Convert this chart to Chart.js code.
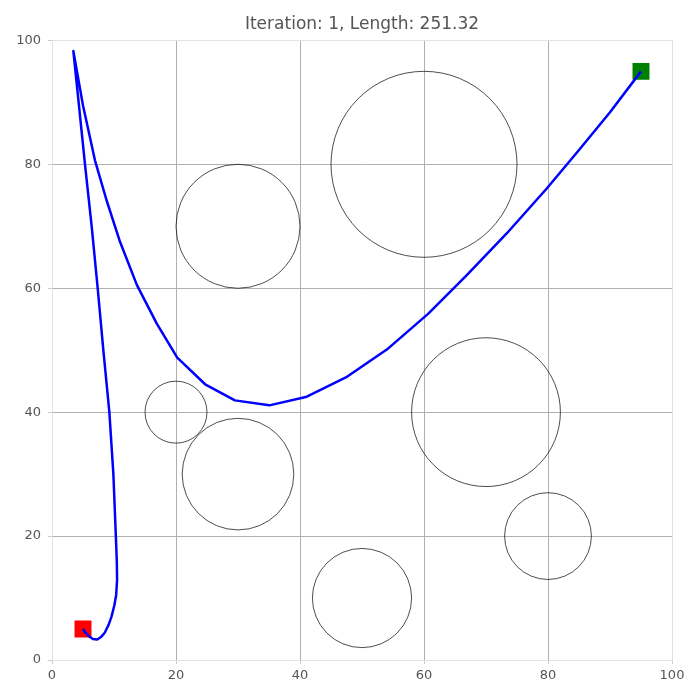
<!DOCTYPE html>
<html>
<head>
<meta charset="utf-8">
<script src="https://cdn.jsdelivr.net/npm/chart.js@4.4.1/dist/chart.umd.min.js"></script>
<style>
  html, body { margin: 0; padding: 0; background: #ffffff; }
  #wrap { width: 700px; height: 700px; }
</style>
</head>
<body>
<div id="wrap"><canvas id="pathChart"></canvas></div>
<script>
// path found by the planner, start -> goal
const pathX = [5, 5.4, 6, 6.6, 7.3, 7.9, 8.5, 9.1, 9.6, 10.05, 10.35, 10.5, 10.45, 10.3, 9.9, 9.25, 8.28, 7.37, 6.4, 5.32, 4.4, 3.44,
    5.0, 6.94, 8.8, 10.97, 13.7, 16.9, 20.2, 24.7, 29.5, 35.05, 41.1, 47.4, 54, 60.7, 66.9, 73.3, 79.8, 85, 90, 95];
const pathY = [5, 4.4, 3.8, 3.4, 3.3, 3.7, 4.4, 5.6, 7, 8.8, 10.5, 13, 16, 20, 30, 40, 50, 60, 70, 80, 89, 98.3,
    89.5, 80.6, 74.2, 67.5, 60.5, 54.3, 48.8, 44.5, 41.9, 41.1, 42.5, 45.6, 50.1, 55.9, 62.1, 68.8, 76.1, 82.3, 88.4, 95];

// obstacles
const obstacleX = [30, 60, 20, 30, 70, 80, 50];
const obstacleY = [70, 80, 40, 30, 40, 20, 10];
const obstacleR = [10, 15, 5, 9, 12, 7, 8];

const startPoint = { x: 5, y: 5 };
const goalPoint = { x: 95, y: 95 };

const axisTicks = [0, 20, 40, 60, 80, 100];
const titleText = 'Iteration: 1, Length: 251.32';

const obstaclePlugin = {
    id: 'obstacles',
    beforeDatasetsDraw(chart) {
        const { ctx, chartArea, scales: { x, y } } = chart;
        ctx.save();
        ctx.beginPath();
        ctx.rect(chartArea.left, chartArea.top, chartArea.width, chartArea.height);
        ctx.clip();
        ctx.strokeStyle = '#000000';
        ctx.lineWidth = 0.7;
        obstacleX.forEach((cx, i) => {
            const px = x.getPixelForValue(cx);
            const py = y.getPixelForValue(obstacleY[i]);
            const pr = Math.abs(x.getPixelForValue(cx + obstacleR[i]) - px);
            ctx.beginPath();
            ctx.arc(px, py, pr, 0, Math.PI * 2);
            ctx.stroke();
        });
        ctx.restore();
    }
};

const gridColor = ctx => (ctx.tick && (ctx.tick.value === 0 || ctx.tick.value === 100)) ? '#e2e2e2' : '#b0b0b0';

new Chart(document.getElementById('pathChart'), {
    type: 'scatter',
    data: {
        datasets: [
            {
                label: 'path',
                data: pathX.map((v, i) => ({ x: v, y: pathY[i] })),
                showLine: true,
                borderColor: '#0000ff',
                borderWidth: 2.5,
                borderJoinStyle: 'round',
                pointRadius: 0,
                tension: 0,
                order: 0
            },
            {
                label: 'start',
                data: [startPoint],
                pointStyle: 'rect',
                pointRadius: 12,
                backgroundColor: '#ff0000',
                borderWidth: 0,
                order: 1
            },
            {
                label: 'goal',
                data: [goalPoint],
                pointStyle: 'rect',
                pointRadius: 12,
                backgroundColor: '#008000',
                borderWidth: 0,
                order: 1
            }
        ]
    },
    options: {
        responsive: true,
        maintainAspectRatio: false,
        animation: false,
        layout: { padding: { left: 0, right: 28, top: 0, bottom: 0 } },
        scales: {
            x: {
                type: 'linear',
                min: 0,
                max: 100,
                afterBuildTicks: scale => { scale.ticks = axisTicks.map(v => ({ value: v })); },
                afterFit: scale => { scale.height = 40; },
                ticks: { color: '#555555', padding: 4, font: { family: 'DejaVu Sans', size: 13 } },
                grid: { color: gridColor, tickColor: '#cccccc', tickLength: 4, lineWidth: 1 },
                border: { display: true, color: '#e2e2e2' }
            },
            y: {
                type: 'linear',
                min: 0,
                max: 100,
                afterBuildTicks: scale => { scale.ticks = axisTicks.map(v => ({ value: v })); },
                afterFit: scale => { scale.width = 52; },
                ticks: { color: '#555555', padding: 7, font: { family: 'DejaVu Sans', size: 13 } },
                grid: { color: gridColor, tickColor: '#cccccc', tickLength: 4, lineWidth: 1 },
                border: { display: true, color: '#e2e2e2' }
            }
        },
        plugins: {
            legend: { display: false },
            tooltip: { enabled: false },
            title: {
                display: true,
                text: titleText,
                fullSize: false,
                color: '#555555',
                font: { family: 'DejaVu Sans', size: 17, weight: 'normal' },
                padding: { top: 14, bottom: 6 }
            }
        }
    },
    plugins: [obstaclePlugin]
});
</script>
</body>
</html>
